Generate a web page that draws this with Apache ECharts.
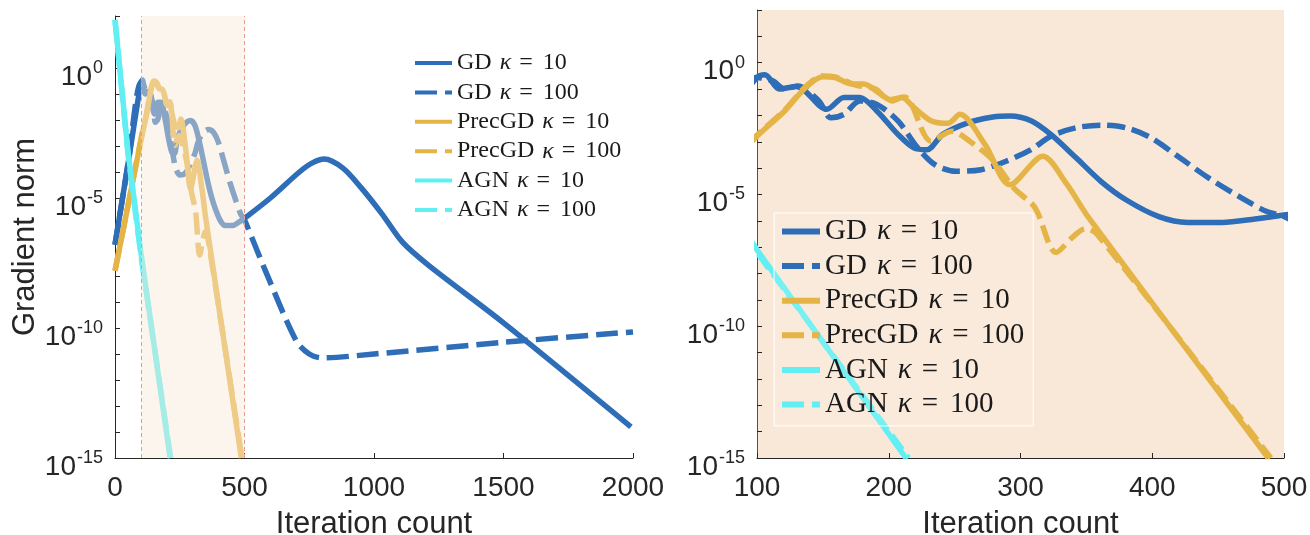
<!DOCTYPE html>
<html>
<head>
<meta charset="utf-8">
<script src="https://cdn.jsdelivr.net/npm/echarts@6/dist/echarts.min.js"></script>
<style>
  html, body { margin: 0; padding: 0; background: #fff; }
  #chart { width: 1310px; height: 535px; }
</style>
</head>
<body>
<div id="chart"></div>
<script>
// each point: [iteration, log10(gradient norm)]
const gd10 = [[0, -6.8], [50, -3.7], [100, -0.56], [106, -0.46], [117, -1.0], [130, -0.9], [153, -1.77], [166, -1.32], [178, -1.32], [191, -1.83], [207, -2.72], [219, -3.23], [229, -3.3], [241, -2.72], [260, -2.28], [279, -2.06], [292, -2.02], [308, -2.2], [323, -2.72], [342, -3.6], [361, -4.5], [380, -5.2], [405, -5.84], [427, -6.06], [453, -6.06], [478, -5.93], [500, -5.78], [600, -5.0], [712, -4.0], [762, -3.65], [808, -3.5], [880, -3.85], [950, -4.6], [1030, -5.6], [1110, -6.7], [1212, -7.6], [1500, -9.8], [1992, -13.8]];
const gd100 = [[0, -6.8], [50, -3.7], [100, -0.56], [112, -0.69], [121, -1.0], [131, -0.88], [147, -1.45], [156, -2.09], [166, -1.96], [178, -1.45], [191, -1.58], [207, -2.21], [222, -3.23], [235, -3.87], [251, -4.12], [270, -4.06], [289, -3.74], [308, -3.3], [323, -2.79], [342, -2.47], [361, -2.37], [380, -2.47], [399, -2.85], [421, -3.61], [443, -4.38], [468, -5.14], [487, -5.65], [500, -5.84], [585, -7.9], [700, -10.5], [750, -11.0], [800, -11.15], [1000, -11.0], [1500, -10.55], [2000, -10.15]];
const prec10 = [[0, -7.8], [50, -5.3], [100, -2.79], [121, -1.83], [137, -0.94], [150, -0.53], [159, -0.56], [172, -0.81], [181, -0.81], [194, -1.2], [203, -1.45], [210, -1.32], [219, -1.7], [232, -2.2], [245, -2.3], [254, -1.96], [273, -3.1], [292, -4.63], [317, -3.55], [335, -4.6], [352, -5.9], [488, -15]];
const prec100 = [[0, -7.8], [50, -5.3], [100, -2.75], [121, -1.8], [137, -0.9], [150, -0.5], [160, -0.55], [175, -0.85], [190, -1.0], [200, -1.4], [212, -1.3], [232, -2.98], [248, -2.6], [262, -3.0], [279, -3.7], [295, -4.76], [311, -5.5], [327, -7.2], [340, -6.6], [349, -6.3], [358, -6.5], [490, -15]];
const agn10 = [[0, 1.85], [50, -3.2], [100, -7.1], [213, -15]];
const agn100 = [[0, 1.85], [50, -3.3], [100, -7.2], [215, -15]];

const methods = ['GD', 'GD', 'PrecGD', 'PrecGD', 'AGN', 'AGN'];
const kappas = [10, 100, 10, 100, 10, 100];
const curves = [gd10, gd100, prec10, prec100, agn10, agn100];
const colors = ['#2e6db7', '#2e6db7', '#e5b446', '#e5b446', '#62eff3', '#62eff3'];
const zoomRange = [100, 500]; // shaded window shown on the right

const names = methods.map((m, i) => m + ' κ = ' + kappas[i]);
const ink = '#262626';
const sans = 'Liberation Sans';
const serif = 'Liberation Serif';

function powLabel(v) {
  const e = Math.round(Math.log10(v));
  if (e % 5 !== 0) return '';
  return '{b|10}{s|' + e + '}';
}

const powRich = {
  b: { fontFamily: sans, fontSize: 28, lineHeight: 26, padding: [8, 0, 0, 0], verticalAlign: 'top', color: ink },
  s: { fontFamily: sans, fontSize: 18, lineHeight: 16, padding: [4, 0, 0, 1], verticalAlign: 'top', color: ink },
};

function xAxis(idx, min, max, step) {
  return {
    type: 'value', gridIndex: idx, min: min, max: max, interval: step,
    name: 'Iteration count', nameLocation: 'middle', nameGap: 51,
    nameTextStyle: { fontFamily: sans, fontSize: 31, color: ink, lineHeight: 31 },
    axisLine: { lineStyle: { color: ink, width: 1 } },
    axisTick: { inside: true, length: 5, lineStyle: { color: ink } },
    axisLabel: { fontFamily: sans, fontSize: 28, color: ink, margin: 15, lineHeight: 30, formatter: v => String(v) },
    splitLine: { show: false },
  };
}

function yAxis(idx, withName) {
  return {
    type: 'log', gridIndex: idx, logBase: 10, min: 1e-15, max: 1e2, interval: 1, splitNumber: 17,
    name: withName ? 'Gradient norm' : '', nameLocation: 'middle', nameGap: 74,
    nameTextStyle: { fontFamily: sans, fontSize: 31, color: ink, lineHeight: 31 },
    axisLine: { show: true, lineStyle: { color: idx === 0 ? ink : '#5a5048', width: 1 } },
    axisTick: { inside: true, length: 5, lineStyle: { color: ink } },
    axisLabel: { formatter: powLabel, rich: powRich, margin: 12 },
    splitLine: { show: false },
  };
}

function makeSeries(i, idx, width, dash) {
  return {
    name: names[i], type: 'line', xAxisIndex: idx, yAxisIndex: idx,
    data: curves[i].map(p => [p[0], Math.pow(10, p[1])]),
    symbol: 'none', smooth: i < 4 ? 0.3 : false, z: 2,
    lineStyle: { color: colors[i], width: width, type: kappas[i] === 100 ? dash : 'solid', cap: 'butt' },
    itemStyle: { color: colors[i] },
  };
}

function legendRich(size, pad) {
  const t = { fontFamily: serif, fontSize: size, lineHeight: size, color: '#1a1a1a' };
  return {
    t: t,
    k: Object.assign({}, t, { fontStyle: 'italic', padding: [0, pad, 0, pad] }),
    v: Object.assign({}, t, { padding: [0, 0, 0, pad + 2] }),
  };
}
const legendFmt = name => {
  const parts = name.split(' κ = ');
  return '{t|' + parts[0] + '}{k|κ}{t|=}{v|' + parts[1] + '}';
};

const series = [];
for (let i = 0; i < 6; i++) series.push(makeSeries(i, 0, 5.5, [22, 8]));
// faded window over the left plot
series.push({
  type: 'line', xAxisIndex: 0, yAxisIndex: 0, data: [], z: 5, silent: true,
  markArea: {
    silent: true, z: 10,
    itemStyle: { color: 'rgba(249,232,215,0.45)' },
    data: [[{ xAxis: zoomRange[0] }, { xAxis: zoomRange[1] }]],
  },
  markLine: {
    silent: true, z: 11, symbol: 'none', label: { show: false },
    lineStyle: { color: '#e89a94', type: [4, 3], width: 1 },
    data: [{ xAxis: zoomRange[0] }, { xAxis: zoomRange[1] }],
  },
});
for (let i = 0; i < 6; i++) series.push(makeSeries(i, 1, 5.5, [18, 7]));

const chart = echarts.init(document.getElementById('chart'));
chart.setOption({
  animation: false,
  backgroundColor: '#fff',
  grid: [
    { left: 115, right: 677, top: 16, bottom: 77, outerBoundsMode: 'none', containLabel: false },
    { left: 757, right: 26, top: 10, bottom: 77, outerBoundsMode: 'none', containLabel: false,
      show: true, backgroundColor: '#f9e8d7', borderWidth: 0 },
  ],
  xAxis: [xAxis(0, 0, 2000, 500), xAxis(1, zoomRange[0], zoomRange[1], 100)],
  yAxis: [yAxis(0, true), yAxis(1, false)],
  legend: [
    {
      data: names, orient: 'vertical', left: 413, top: 51, padding: 0,
      itemWidth: 37, itemHeight: 14, itemGap: 5.4,
      lineStyle: { width: 4 }, itemStyle: { opacity: 0 },
      formatter: legendFmt,
      textStyle: { rich: legendRich(24, 8) },
    },
    {
      data: names, orient: 'vertical', left: 774, top: 213, padding: [4, 9, 7, 5],
      itemWidth: 38, itemHeight: 14, itemGap: 5.6,
      backgroundColor: 'rgba(255,255,255,0.12)', borderColor: '#ffffff', borderWidth: 1,
      lineStyle: { width: 6 }, itemStyle: { opacity: 0 },
      formatter: legendFmt,
      textStyle: { rich: legendRich(29, 10) },
    },
  ],
  series: series,
});
</script>
</body>
</html>
